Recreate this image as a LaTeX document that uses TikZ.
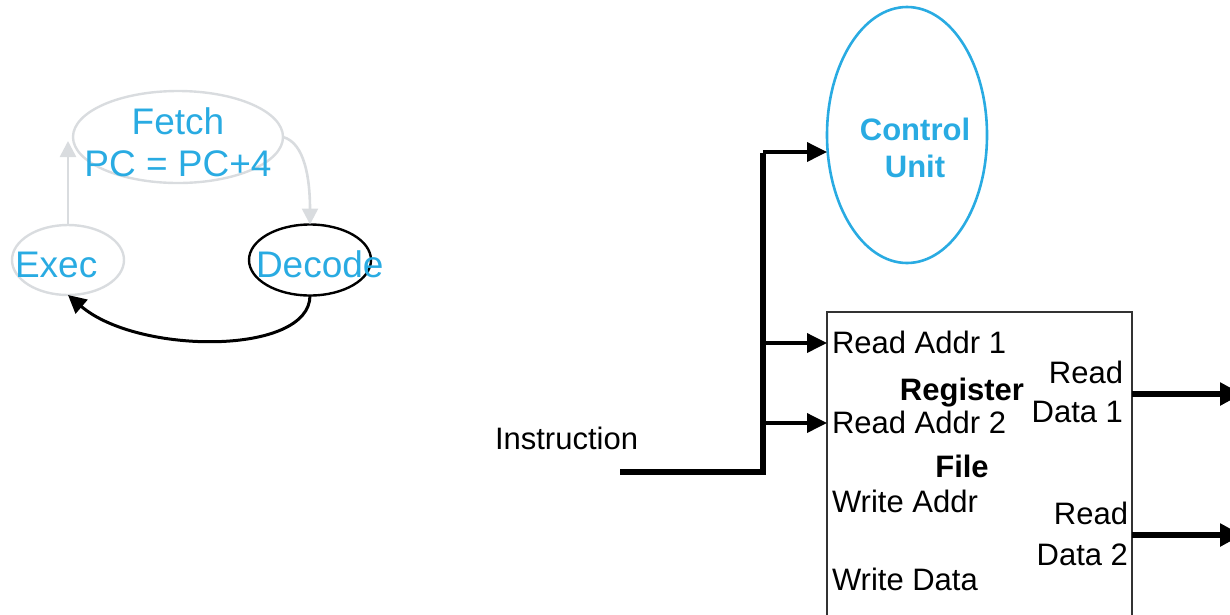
\documentclass[tikz,border=0pt]{standalone}
\usepackage{fontspec}
\setmainfont{Liberation Sans}
\usetikzlibrary{arrows.meta,shapes.geometric}
\definecolor{cublue}{HTML}{29ABE2}
\definecolor{lgray}{HTML}{D9DCDF}
\definecolor{boxline}{HTML}{333333}
\begin{document}
\begin{tikzpicture}[x=1pt,y=-1pt,
  every node/.style={inner sep=0pt,outer sep=0pt},
  stateell/.style={ellipse,line width=2.4pt},
  bigtxt/.style={text=cublue,font=\fontsize{37}{44}\selectfont,align=center},
  lbl/.style={font=\fontsize{31}{38}\selectfont},
  garrow/.style={draw=lgray,line width=2.6pt,-{Triangle[length=16pt,width=16pt]}},
  barrow/.style={draw=black,line width=3pt,-{Triangle[length=18pt,width=18pt]}},
  bus/.style={draw=black,line width=6.5pt,line join=miter},
  sig/.style={draw=black,line width=3.6pt,-{Triangle[length=20pt,width=19pt]}},
  outsig/.style={draw=black,line width=6pt,-{Triangle[length=22pt,width=22pt]}}]
\useasboundingbox (0,0) rectangle (1230,614);
\clip (0,0) rectangle (1230,614);

% state machine
\node[stateell,draw=lgray,minimum width=210pt,minimum height=92pt] (fetch) at (178,137) {};
\node[stateell,draw=lgray,minimum width=112pt,minimum height=70pt] (exec) at (68,260) {};
\node[stateell,draw=black,minimum width=122pt,minimum height=71pt] (decode) at (310,260) {};
\node[bigtxt,anchor=base] (fetchtxt) at (178,134) {Fetch};
\node[bigtxt,anchor=base] (pctxt) at (178,176) {PC = PC+4};
\node[bigtxt,anchor=base west] (exectxt) at (15,277) {Exec};
\node[bigtxt,anchor=base west] (dectxt) at (256,277) {Decode};

\draw[garrow] (exec.north) -- ([yshift=-4pt]exec.north |- fetch.west);
\draw[garrow] (fetch.east) .. controls +(22,6) and +(0,-45) .. (decode.north);
\draw[barrow] (decode.south) .. controls +(0,60) and +(70,60) .. (exec.south);

% control unit
\node[ellipse,draw=cublue,line width=2.6pt,minimum width=160pt,minimum height=256pt] (ctrl) at (907,135) {};
\node[font=\bfseries\fontsize{31}{38}\selectfont,text=cublue,anchor=base] (ctrltxt1) at (915,140) {Control};
\node[font=\bfseries\fontsize{31}{38}\selectfont,text=cublue,anchor=base] (ctrltxt2) at (915,177) {Unit};

% register file
\node[draw=boxline,line width=2.6pt,minimum width=305pt,minimum height=340pt,anchor=north west] (regfile) at (827,312) {};
\node[lbl,anchor=base west] (ra1) at (832,353) {Read Addr 1};
\node[lbl,anchor=base west] (ra2) at (832,433) {Read Addr 2};
\node[lbl,anchor=base west] (wa) at (832,512) {Write Addr};
\node[lbl,anchor=base west] (wd) at (832,590) {Write Data};
\node[lbl,font=\bfseries\fontsize{31}{38}\selectfont,anchor=base] (regtxt) at (962,400) {Register};
\node[lbl,font=\bfseries\fontsize{31}{38}\selectfont,anchor=base] (filetxt) at (962,477) {File};
\node[lbl,anchor=base east] (rd1a) at (1123,383) {Read};
\node[lbl,anchor=base east] (rd1b) at (1123,422) {Data 1};
\node[lbl,anchor=base east] (rd2a) at (1128,524) {Read};
\node[lbl,anchor=base east] (rd2b) at (1128,565) {Data 2};

% instruction bus
\node[lbl,anchor=base west] (instrtxt) at (495,449) {Instruction};
\coordinate (instr) at (620,472);
\coordinate (bj) at (763,472);
\coordinate (btop) at (763,152);
\coordinate (b1) at (763,343);
\coordinate (b2) at (763,423);
\draw[bus] (instr) -- (bj) -- ([yshift=-1pt]btop);
\draw[sig] (btop) -- (btop -| ctrl.west);
\draw[sig] (b1) -- (b1 -| regfile.west);
\draw[sig] (b2) -- (b2 -| regfile.west);

% outputs
\coordinate (o1) at (1242,394);
\coordinate (o2) at (1242,535);
\draw[outsig] (o1 -| regfile.east) -- (o1);
\draw[outsig] (o2 -| regfile.east) -- (o2);
\end{tikzpicture}
\end{document}
